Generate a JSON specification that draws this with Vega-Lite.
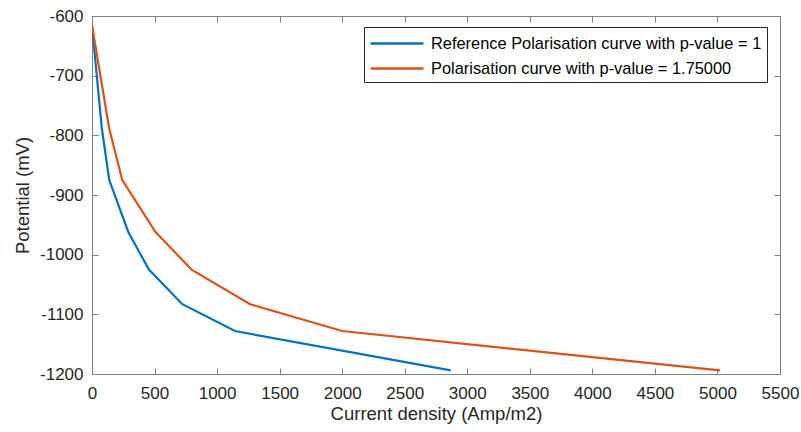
{
  "$schema": "https://vega.github.io/schema/vega-lite/v6.json",
  "width": 688,
  "height": 358,
  "autosize": "none",
  "padding": {"left": 92, "top": 16, "right": 21, "bottom": 58},
  "background": "white",
  "config": {
    "font": "Liberation Sans",
    "view": {"stroke": "#808080", "strokeWidth": 1},
    "axis": {
      "domainColor": "#808080",
      "tickColor": "#808080",
      "labelColor": "#262626",
      "titleColor": "#262626",
      "labelFont": "Liberation Sans",
      "titleFont": "Liberation Sans",
      "labelFontSize": 17,
      "titleFontSize": 18.5,
      "titleFontWeight": "normal",
      "grid": false,
      "tickSize": -6,
      "labelFlush": false,
      "labelOverlap": false,
      "labelExpr": "'' + datum.value"
    }
  },
  "data": {
    "values": [
      {"j": 0, "p": -616, "s": "Reference Polarisation curve with p-value = 1"},
      {"j": 79, "p": -789, "s": "Reference Polarisation curve with p-value = 1"},
      {"j": 138, "p": -875, "s": "Reference Polarisation curve with p-value = 1"},
      {"j": 290, "p": -962, "s": "Reference Polarisation curve with p-value = 1"},
      {"j": 455, "p": -1025, "s": "Reference Polarisation curve with p-value = 1"},
      {"j": 722, "p": -1083, "s": "Reference Polarisation curve with p-value = 1"},
      {"j": 1143, "p": -1128, "s": "Reference Polarisation curve with p-value = 1"},
      {"j": 2868, "p": -1194, "s": "Reference Polarisation curve with p-value = 1"},
      {"j": 0, "p": -616, "s": "Polarisation curve with p-value = 1.75000"},
      {"j": 138, "p": -789, "s": "Polarisation curve with p-value = 1.75000"},
      {"j": 242, "p": -875, "s": "Polarisation curve with p-value = 1.75000"},
      {"j": 508, "p": -962, "s": "Polarisation curve with p-value = 1.75000"},
      {"j": 796, "p": -1025, "s": "Polarisation curve with p-value = 1.75000"},
      {"j": 1264, "p": -1083, "s": "Polarisation curve with p-value = 1.75000"},
      {"j": 2000, "p": -1128, "s": "Polarisation curve with p-value = 1.75000"},
      {"j": 5020, "p": -1194, "s": "Polarisation curve with p-value = 1.75000"}
    ]
  },
  "layer": [
    {
      "mark": {"type": "line", "strokeWidth": 2.2, "clip": true},
      "encoding": {
        "x": {
          "field": "j", "type": "quantitative",
          "scale": {"domain": [0, 5500], "nice": false},
          "axis": {"values": [0,500,1000,1500,2000,2500,3000,3500,4000,4500,5000,5500], "title": "Current density (Amp/m2)", "titlePadding": 3, "labelPadding": 17}
        },
        "y": {
          "field": "p", "type": "quantitative",
          "scale": {"domain": [-1200, -600], "nice": false, "zero": false},
          "axis": {"values": [-1200,-1100,-1000,-900,-800,-700,-600], "title": "Potential (mV)", "titlePadding": 7, "labelPadding": 15}
        },
        "color": {
          "field": "s", "type": "nominal",
          "scale": {"domain": ["Reference Polarisation curve with p-value = 1", "Polarisation curve with p-value = 1.75000"], "range": ["#0072BD", "#D95319"]},
          "legend": {
            "title": null,
            "orient": "none",
            "legendX": 272,
            "legendY": 11,
            "symbolType": "M-1,0H4.3",
            "symbolSize": 400,
            "symbolStrokeWidth": 2.5,
            "labelFontSize": 16.4,
            "labelColor": "#000000",
            "labelFont": "Liberation Sans",
            "labelLimit": 500,
            "strokeColor": "#262626",
            "fillColor": "white",
            "padding": 5,
            "rowPadding": 5,
            "labelOffset": 39
          }
        },
        "order": {"field": "j", "type": "quantitative"}
      }
    },
    {
      "mark": {"type": "line", "opacity": 0},
      "encoding": {
        "x": {
          "field": "j", "type": "quantitative",
          "scale": {"domain": [0, 5500], "nice": false},
          "axis": {"orient": "top", "values": [0,500,1000,1500,2000,2500,3000,3500,4000,4500,5000,5500], "labels": false, "title": null}
        },
        "y": {
          "field": "p", "type": "quantitative",
          "scale": {"domain": [-1200, -600], "nice": false, "zero": false},
          "axis": {"orient": "right", "values": [-1200,-1100,-1000,-900,-800,-700,-600], "labels": false, "title": null}
        },
        "detail": {"field": "s"}
      }
    }
  ],
  "resolve": {"axis": {"x": "independent", "y": "independent"}}
}
